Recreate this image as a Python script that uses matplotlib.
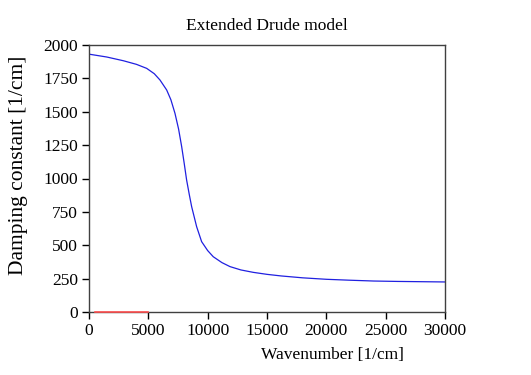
import numpy as np
import matplotlib
matplotlib.use('Agg')
import matplotlib.pyplot as plt

# valores
wavenumber = [100, 1500, 2900, 4000, 4860, 5500, 5980, 6545, 6900, 7245, 7550, 7810, 8020, 8225,
              8450, 8650, 9070, 9490, 10000, 10470, 11200, 11880, 12800, 13840, 15000, 16200,
              18000, 20000, 22000, 24000, 26000, 28000, 30000]
damping = [1930, 1910, 1882, 1855, 1825, 1785, 1738, 1663, 1590, 1488, 1370, 1238, 1115, 989,
           880, 789, 639, 527, 460, 414, 370, 340, 315, 297, 282, 270,
           256, 245, 238, 232, 229, 227, 225]

red_x = [500, 5000]
red_y = [0, 0]

plt.rcParams['font.family'] = ['Liberation Serif', 'DejaVu Serif']
plt.rcParams['font.size'] = 12.5

fig = plt.figure(figsize=(5.31, 3.75), dpi=100)
ax = fig.add_axes([0.1676, 0.168, 0.6705, 0.712])

ax.plot(red_x, red_y, color='#ff5050', lw=1.2, clip_on=False, zorder=4)
ax.plot(wavenumber, damping, color='#2020e0', lw=0.9)

ax.set_xlim(0, 30000)
ax.set_ylim(0, 2000)
ax.set_xticks(np.arange(0, 30001, 5000))
ax.set_yticks(np.arange(0, 2001, 250))
ax.tick_params(direction='out', length=5, width=1, top=False, right=False, pad=3)
for s in ax.spines.values():
    s.set_linewidth(1.0)
    s.set_color('#404040')

ax.set_title('Extended Drude model', fontsize=12.5, pad=11)
ax.set_xlabel('Wavenumber [1/cm]')
ax.xaxis.set_label_coords(0.683, -0.13)
ax.set_ylabel('Damping constant [1/cm]', fontsize=15.5)
ax.yaxis.set_label_coords(-0.172, 0.55)

fig.savefig('out.png', dpi=100)
